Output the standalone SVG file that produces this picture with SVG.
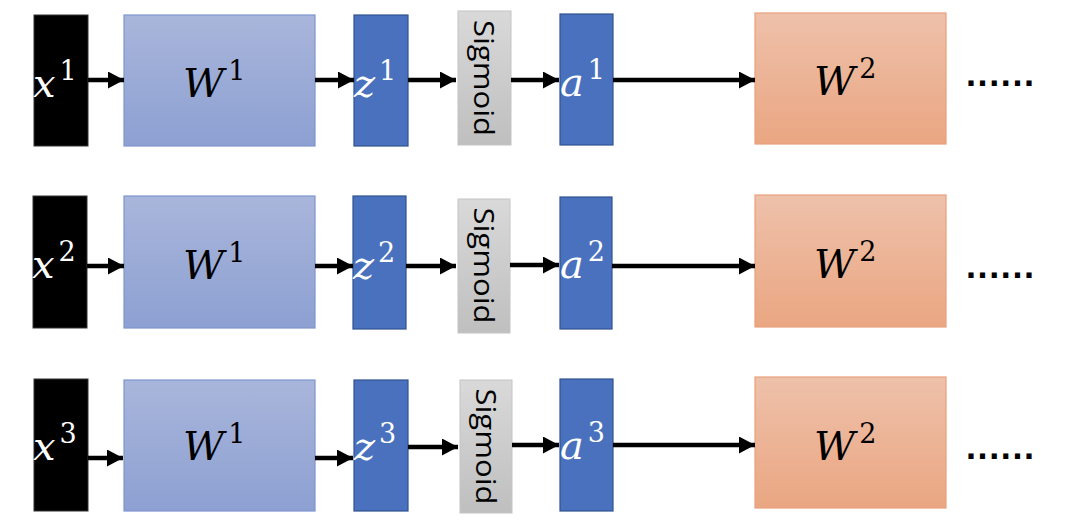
<svg xmlns="http://www.w3.org/2000/svg" width="1080" height="521" viewBox="0 0 1080 521">
<defs>
<linearGradient id="gW1" x1="0" y1="0" x2="0" y2="1"><stop offset="0" stop-color="#A9B6DB"/><stop offset="1" stop-color="#8DA0D2"/></linearGradient>
<linearGradient id="gW2" x1="0" y1="0" x2="0" y2="1"><stop offset="0" stop-color="#EEC1AA"/><stop offset="1" stop-color="#EAA682"/></linearGradient>
<linearGradient id="gS" x1="0" y1="0" x2="0" y2="1"><stop offset="0" stop-color="#D9D9D9"/><stop offset="1" stop-color="#BFBFBF"/></linearGradient>
<marker id="ah" markerUnits="userSpaceOnUse" markerWidth="17" markerHeight="17" viewBox="0 0 17 17" refX="16" refY="8.5" orient="auto"><path d="M0,0 L16,8.5 L0,17 z" fill="#000"/></marker>
<style>
.x{fill:#000;stroke:#333;stroke-width:1}
.w1{fill:url(#gW1);stroke:#7F95CF;stroke-width:1.2}
.w2{fill:url(#gW2);stroke:#E8A07C;stroke-width:1.2}
.b{fill:#4A71BE;stroke:#30528F;stroke-width:1.2}
.s{fill:url(#gS);stroke:#C4C4C4;stroke-width:1}
.m{font-family:"DejaVu Serif","Liberation Serif",serif;font-style:italic;font-size:40px}
.sup{font-style:normal;font-size:27px}
.wt{fill:#fff}
.bk{fill:#000}
.sg{font-family:"Open Sans","Liberation Sans",Arial,sans-serif;font-size:27px;fill:#000}
.dots{font-family:"Liberation Sans",Arial,sans-serif;font-size:36px;font-weight:bold;fill:#000}
.c line{stroke:#000;stroke-width:4.5;marker-end:url(#ah)}
</style>
</defs>
<rect width="1080" height="521" fill="#fff"/>

<!-- Row 1 -->
<g id="x1"><rect class="x" x="34" y="15" width="54" height="131"/><text class="m wt" x="33" y="97">x<tspan class="sup" dx="4" dy="-17">1</tspan></text></g>
<g id="W1a"><rect class="w1" x="124" y="15" width="191" height="131"/><text class="m bk" x="183" y="97">W<tspan class="sup" dx="4" dy="-17">1</tspan></text></g>
<g id="z1"><rect class="b" x="354" y="15" width="54" height="131"/><text class="m wt" x="354" y="97">z<tspan class="sup" dx="4" dy="-17">1</tspan></text></g>
<g id="sig1"><rect class="s" x="458" y="11" width="53" height="134"/><text class="sg" transform="translate(474,78) rotate(90)" text-anchor="middle" textLength="116" lengthAdjust="spacingAndGlyphs">Sigmoid</text></g>
<g id="a1"><rect class="b" x="560" y="14" width="53" height="131"/><text class="m wt" x="560" y="96">a<tspan class="sup" dx="4" dy="-17">1</tspan></text></g>
<g id="W2a"><rect class="w2" x="755" y="13" width="191" height="131"/><text class="m bk" x="814" y="95">W<tspan class="sup" dx="4" dy="-17">2</tspan></text></g>
<g id="d1"><text class="dots" x="966" y="86" textLength="68" lengthAdjust="spacing">......</text></g>

<!-- Row 2 -->
<g id="x2"><rect class="x" x="33" y="196" width="54" height="132"/><text class="m wt" x="32" y="278">x<tspan class="sup" dx="4" dy="-17">2</tspan></text></g>
<g id="W1b"><rect class="w1" x="124" y="196" width="191" height="132"/><text class="m bk" x="183" y="279">W<tspan class="sup" dx="4" dy="-17">1</tspan></text></g>
<g id="z2"><rect class="b" x="353" y="196" width="53" height="133"/><text class="m wt" x="353" y="279">z<tspan class="sup" dx="4" dy="-17">2</tspan></text></g>
<g id="sig2"><rect class="s" x="458" y="199" width="52" height="134"/><text class="sg" transform="translate(474,265.5) rotate(90)" text-anchor="middle" textLength="116" lengthAdjust="spacingAndGlyphs">Sigmoid</text></g>
<g id="a2"><rect class="b" x="560" y="197" width="52" height="132"/><text class="m wt" x="560" y="278">a<tspan class="sup" dx="4" dy="-17">2</tspan></text></g>
<g id="W2b"><rect class="w2" x="755" y="195" width="191" height="132"/><text class="m bk" x="814" y="278">W<tspan class="sup" dx="4" dy="-17">2</tspan></text></g>
<g id="d2"><text class="dots" x="966" y="278" textLength="68" lengthAdjust="spacing">......</text></g>

<!-- Row 3 -->
<g id="x3"><rect class="x" x="34" y="379" width="54" height="132"/><text class="m wt" x="33" y="460">x<tspan class="sup" dx="4" dy="-17">3</tspan></text></g>
<g id="W1c"><rect class="w1" x="124" y="380" width="191" height="131"/><text class="m bk" x="183" y="460">W<tspan class="sup" dx="4" dy="-17">1</tspan></text></g>
<g id="z3"><rect class="b" x="354" y="380" width="54" height="131"/><text class="m wt" x="354" y="460">z<tspan class="sup" dx="4" dy="-17">3</tspan></text></g>
<g id="sig3"><rect class="s" x="460" y="380" width="52" height="133"/><text class="sg" transform="translate(476,446.5) rotate(90)" text-anchor="middle" textLength="116" lengthAdjust="spacingAndGlyphs">Sigmoid</text></g>
<g id="a3"><rect class="b" x="560" y="379" width="53" height="132"/><text class="m wt" x="560" y="459">a<tspan class="sup" dx="4" dy="-17">3</tspan></text></g>
<g id="W2c"><rect class="w2" x="755" y="377" width="191" height="131"/><text class="m bk" x="814" y="460">W<tspan class="sup" dx="4" dy="-17">2</tspan></text></g>
<g id="d3"><text class="dots" x="966" y="459" textLength="68" lengthAdjust="spacing">......</text></g>

<g id="connectors" class="c">
<line x1="88" y1="80" x2="124" y2="80"/>
<line x1="315" y1="80" x2="354" y2="80"/>
<line x1="408" y1="80" x2="456" y2="80"/>
<line x1="511" y1="80" x2="559" y2="80"/>
<line x1="613" y1="80" x2="755" y2="80"/>

<line x1="87" y1="266" x2="124" y2="266"/>
<line x1="315" y1="266" x2="353" y2="266"/>
<line x1="406" y1="266" x2="456" y2="266"/>
<line x1="510" y1="265" x2="559" y2="265"/>
<line x1="612" y1="266" x2="755" y2="266"/>

<line x1="88" y1="458" x2="123" y2="458"/>
<line x1="315" y1="458" x2="353" y2="458"/>
<line x1="408" y1="447" x2="458" y2="447"/>
<line x1="512" y1="445" x2="559" y2="445"/>
<line x1="613" y1="445" x2="755" y2="445"/>
</g>
</svg>
